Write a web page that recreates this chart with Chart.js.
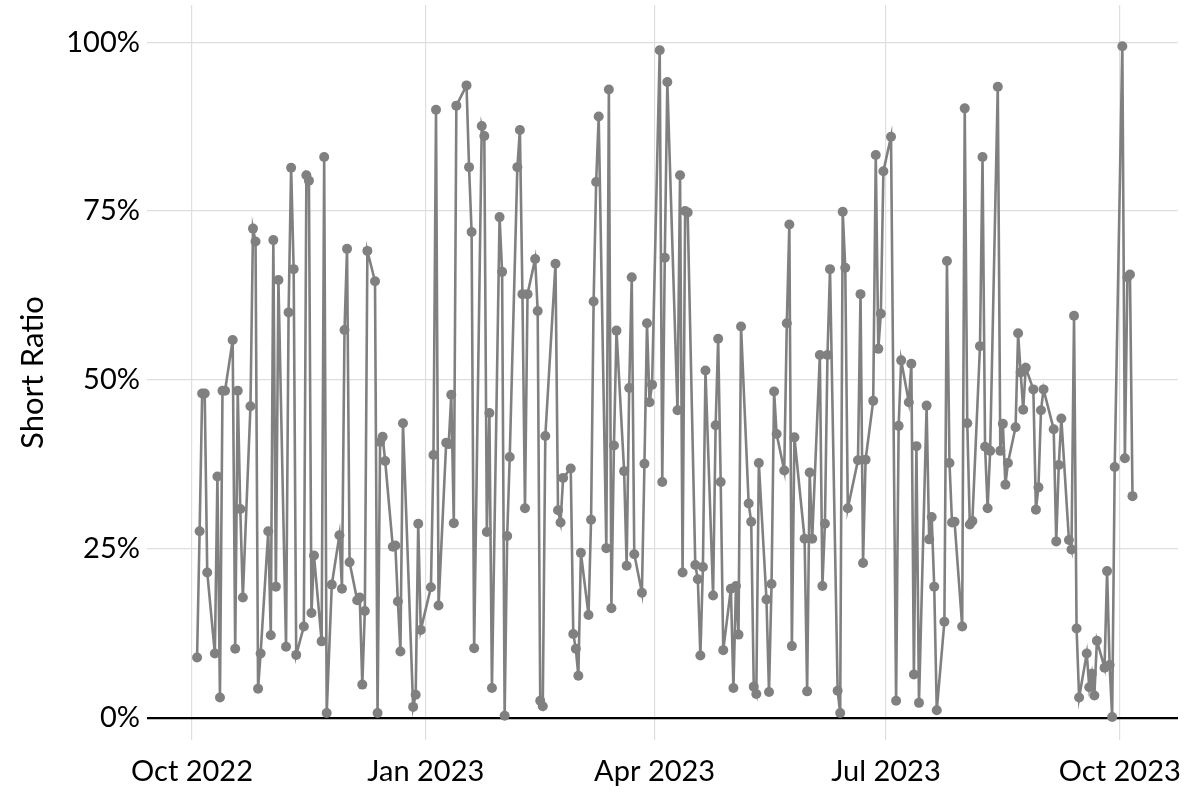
<!DOCTYPE html>
<html>
<head>
<meta charset="utf-8">
<title>Short Ratio</title>
<script src="https://cdn.jsdelivr.net/npm/chart.js@4.4.1/dist/chart.umd.min.js"></script>
<style>
    html, body { margin: 0; padding: 0; background: #ffffff; }
    canvas { display: block; }
</style>
</head>
<body>
<canvas id="shortRatioChart" width="1189" height="799"></canvas>
<script>
// Trading days (one row per week)
const dates = [
    "2022-10-03", "2022-10-04", "2022-10-05", "2022-10-06", "2022-10-07",
    "2022-10-10", "2022-10-11", "2022-10-12", "2022-10-13", "2022-10-14",
    "2022-10-17", "2022-10-18", "2022-10-19", "2022-10-20", "2022-10-21",
    "2022-10-24", "2022-10-25", "2022-10-26", "2022-10-27", "2022-10-28",
    "2022-10-31", "2022-11-01", "2022-11-02", "2022-11-03", "2022-11-04",
    "2022-11-07", "2022-11-08", "2022-11-09", "2022-11-10", "2022-11-11",
    "2022-11-14", "2022-11-15", "2022-11-16", "2022-11-17", "2022-11-18",
    "2022-11-21", "2022-11-22", "2022-11-23", "2022-11-25",
    "2022-11-28", "2022-11-29", "2022-11-30", "2022-12-01", "2022-12-02",
    "2022-12-05", "2022-12-06", "2022-12-07", "2022-12-08", "2022-12-09",
    "2022-12-12", "2022-12-13", "2022-12-14", "2022-12-15", "2022-12-16",
    "2022-12-19", "2022-12-20", "2022-12-21", "2022-12-22", "2022-12-23",
    "2022-12-27", "2022-12-28", "2022-12-29", "2022-12-30",
    "2023-01-03", "2023-01-04", "2023-01-05", "2023-01-06",
    "2023-01-09", "2023-01-10", "2023-01-11", "2023-01-12", "2023-01-13",
    "2023-01-17", "2023-01-18", "2023-01-19", "2023-01-20",
    "2023-01-23", "2023-01-24", "2023-01-25", "2023-01-26", "2023-01-27",
    "2023-01-30", "2023-01-31", "2023-02-01", "2023-02-02", "2023-02-03",
    "2023-02-06", "2023-02-07", "2023-02-08", "2023-02-09", "2023-02-10",
    "2023-02-13", "2023-02-14", "2023-02-15", "2023-02-16", "2023-02-17",
    "2023-02-21", "2023-02-22", "2023-02-23", "2023-02-24",
    "2023-02-27", "2023-02-28", "2023-03-01", "2023-03-02", "2023-03-03",
    "2023-03-06", "2023-03-07", "2023-03-08", "2023-03-09", "2023-03-10",
    "2023-03-13", "2023-03-14", "2023-03-15", "2023-03-16", "2023-03-17",
    "2023-03-20", "2023-03-21", "2023-03-22", "2023-03-23", "2023-03-24",
    "2023-03-27", "2023-03-28", "2023-03-29", "2023-03-30", "2023-03-31",
    "2023-04-03", "2023-04-04", "2023-04-05", "2023-04-06",
    "2023-04-10", "2023-04-11", "2023-04-12", "2023-04-13", "2023-04-14",
    "2023-04-17", "2023-04-18", "2023-04-19", "2023-04-20", "2023-04-21",
    "2023-04-24", "2023-04-25", "2023-04-26", "2023-04-27", "2023-04-28",
    "2023-05-01", "2023-05-02", "2023-05-03", "2023-05-04", "2023-05-05",
    "2023-05-08", "2023-05-09", "2023-05-10", "2023-05-11", "2023-05-12",
    "2023-05-15", "2023-05-16", "2023-05-17", "2023-05-18", "2023-05-19",
    "2023-05-22", "2023-05-23", "2023-05-24", "2023-05-25", "2023-05-26",
    "2023-05-30", "2023-05-31", "2023-06-01", "2023-06-02",
    "2023-06-05", "2023-06-06", "2023-06-07", "2023-06-08", "2023-06-09",
    "2023-06-12", "2023-06-13", "2023-06-14", "2023-06-15", "2023-06-16",
    "2023-06-20", "2023-06-21", "2023-06-22", "2023-06-23",
    "2023-06-26", "2023-06-27", "2023-06-28", "2023-06-29", "2023-06-30",
    "2023-07-03", "2023-07-05", "2023-07-06", "2023-07-07",
    "2023-07-10", "2023-07-11", "2023-07-12", "2023-07-13", "2023-07-14",
    "2023-07-17", "2023-07-18", "2023-07-19", "2023-07-20", "2023-07-21",
    "2023-07-24", "2023-07-25", "2023-07-26", "2023-07-27", "2023-07-28",
    "2023-07-31", "2023-08-01", "2023-08-02", "2023-08-03", "2023-08-04",
    "2023-08-07", "2023-08-08", "2023-08-09", "2023-08-10", "2023-08-11",
    "2023-08-14", "2023-08-15", "2023-08-16", "2023-08-17", "2023-08-18",
    "2023-08-21", "2023-08-22", "2023-08-23", "2023-08-24", "2023-08-25",
    "2023-08-28", "2023-08-29", "2023-08-30", "2023-08-31", "2023-09-01",
    "2023-09-05", "2023-09-06", "2023-09-07", "2023-09-08",
    "2023-09-11", "2023-09-12", "2023-09-13", "2023-09-14", "2023-09-15",
    "2023-09-18", "2023-09-19", "2023-09-20", "2023-09-21", "2023-09-22",
    "2023-09-25", "2023-09-26", "2023-09-27", "2023-09-28", "2023-09-29",
    "2023-10-02", "2023-10-03", "2023-10-04", "2023-10-05", "2023-10-06",
];

// Short ratio in percent, same order as dates
const shortRatio = [
    8.9, 27.6, 48.0, 48.0, 21.5,
    9.5, 35.7, 3.0, 48.4, 48.4,
    55.9, 10.2, 48.4, 30.9, 17.8,
    46.1, 72.4, 70.5, 4.3, 9.5,
    27.6, 12.2, 70.7, 19.4, 64.8,
    10.5, 60.0, 81.4, 66.4, 9.3,
    13.5, 80.3, 79.5, 15.5, 24.0,
    11.3, 83.0, 0.7, 19.7,
    27.0, 19.1, 57.4, 69.4, 23.0,
    17.4, 17.8, 4.9, 15.8, 69.1,
    64.6, 0.7, 40.8, 41.6, 38.0,
    25.3, 25.5, 17.2, 9.8, 43.6,
    1.6, 3.4, 28.7, 13.0,
    19.3, 38.9, 90.0, 16.6,
    40.7, 40.5, 47.8, 28.8, 90.6,
    93.6, 81.5, 71.9, 10.3,
    87.6, 86.1, 27.5, 45.1, 4.4,
    74.1, 66.0, 0.3, 26.9, 38.6,
    81.5, 87.0, 62.7, 31.0, 62.7,
    67.9, 60.2, 2.5, 1.7, 41.7,
    67.2, 30.7, 28.9, 35.5,
    36.9, 12.4, 10.2, 6.2, 24.4,
    15.2, 29.3, 61.6, 79.3, 89.0,
    25.1, 93.0, 16.2, 40.3, 57.3,
    36.5, 22.5, 48.8, 65.2, 24.2,
    18.5, 37.6, 58.4, 46.7, 49.3,
    98.8, 34.9, 68.1, 94.1,
    45.5, 80.3, 21.5, 75.0, 74.8,
    22.6, 20.5, 9.2, 22.3, 51.4,
    18.1, 43.3, 56.1, 34.9, 10.0,
    19.1, 4.4, 19.5, 12.3, 57.9,
    31.7, 29.0, 4.6, 3.5, 37.7,
    17.5, 3.8, 19.8, 48.3, 42.0,
    36.6, 58.4, 73.0, 10.6, 41.5,
    26.5, 3.9, 36.3, 26.5,
    53.7, 19.5, 28.7, 53.7, 66.4,
    4.0, 0.7, 74.9, 66.6, 31.0,
    38.1, 62.7, 22.9, 38.2,
    46.9, 83.3, 54.6, 59.8, 80.9,
    86.0, 2.5, 43.2, 52.9,
    46.7, 52.4, 6.4, 40.2, 2.2,
    46.2, 26.4, 29.7, 19.4, 1.1,
    14.2, 67.6, 37.7, 28.9, 29.0,
    13.5, 90.2, 43.6, 28.6, 29.1,
    55.0, 83.0, 40.1, 31.0, 39.5,
    93.4, 39.5, 43.5, 34.5, 37.7,
    43.0, 56.9, 51.1, 45.6, 51.8,
    48.6, 30.8, 34.1, 45.5, 48.6,
    42.7, 26.1, 37.4, 44.3,
    26.3, 24.9, 59.5, 13.2, 3.0,
    9.5, 4.5, 6.5, 3.3, 11.4,
    7.4, 21.7, 7.8, 0.1, 37.1,
    99.4, 38.4, 65.2, 65.6, 32.8,
];

// Axis ticks
const xTickDates = ["2022-10-01", "2023-01-01", "2023-04-01", "2023-07-01", "2023-10-01"];
const xTickLabels = ["Oct 2022", "Jan 2023", "Apr 2023", "Jul 2023", "Oct 2023"];
const yTicks = [0, 25, 50, 75, 100];

// x values are days counted from 1 Oct 2022
const origin = Date.parse("2022-10-01");
const toDays = (d) => (Date.parse(d) - origin) / 86400000;

const points = dates.map((d, i) => ({ x: toDays(d), y: shortRatio[i] }));
const xTickDays = xTickDates.map(toDays);

const FONT = "Lato, 'DejaVu Sans', sans-serif";
const GREY = "#808080";

new Chart(document.getElementById("shortRatioChart"), {
    type: "line",
    data: {
        datasets: [
            {
                label: "Short Ratio",
                data: points,
                borderColor: GREY,
                backgroundColor: GREY,
                borderWidth: 2.6,
                pointRadius: 5,
                pointBorderWidth: 0,
                pointBackgroundColor: GREY,
                tension: 0,
            },
        ],
    },
    options: {
        responsive: false,
        devicePixelRatio: 1,
        animation: false,
        layout: {
            padding: { top: 2, right: 11, bottom: 0, left: 0 },
        },
        plugins: {
            legend: { display: false },
            tooltip: { enabled: false },
        },
        scales: {
            x: {
                type: "linear",
                min: -17.7,
                max: 387.9,
                afterBuildTicks: (scale) => {
                    scale.ticks = xTickDays.map((v) => ({ value: v }));
                },
                afterFit: (scale) => {
                    // fixed axis box, no extra room for edge labels
                    scale.height = 59;
                    scale.paddingLeft = 0;
                    scale.paddingRight = 0;
                },
                border: { display: false },
                grid: {
                    color: "#dedede",
                    lineWidth: 1.2,
                    drawTicks: false,
                },
                ticks: {
                    autoSkip: false,
                    maxRotation: 0,
                    padding: 14,
                    color: "#000000",
                    font: { family: FONT, size: 29 },
                    callback: (value, index) => xTickLabels[index],
                },
            },
            y: {
                type: "linear",
                min: -3.3,
                max: 105.5,
                afterBuildTicks: (scale) => {
                    scale.ticks = yTicks.map((v) => ({ value: v }));
                },
                afterFit: (scale) => {
                    scale.width = 147;
                    scale.paddingTop = 0;
                    scale.paddingBottom = 0;
                },
                border: { display: false },
                grid: {
                    color: (ctx) => (ctx.tick && ctx.tick.value === 0 ? "#000000" : "#dedede"),
                    lineWidth: (ctx) => (ctx.tick && ctx.tick.value === 0 ? 2.2 : 1.2),
                    drawTicks: false,
                },
                ticks: {
                    padding: 7,
                    color: "#000000",
                    font: { family: FONT, size: 29 },
                    callback: (value) => value + "%",
                },
                title: {
                    display: true,
                    text: "Short Ratio",
                    color: "#000000",
                    font: { family: FONT, size: 31 },
                    padding: { top: 14, bottom: 0 },
                },
            },
        },
    },
});
</script>
</body>
</html>
